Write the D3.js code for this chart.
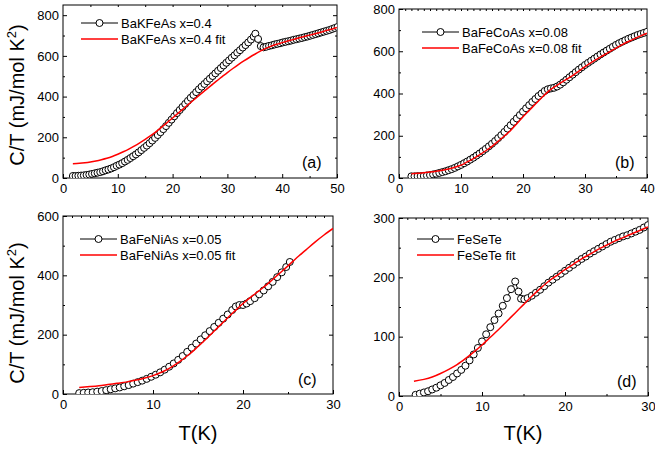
<!DOCTYPE html>
<html>
<head>
<meta charset="utf-8">
<script src="https://cdnjs.cloudflare.com/ajax/libs/d3/7.8.5/d3.min.js"></script>
<style>
body { margin: 0; background: #fff; }
svg text { font-family: "Liberation Sans", Arial, sans-serif; fill: #000; }
</style>
</head>
<body>
<div class="container"></div>
<script>
// (a) BaKFeAs x=0.4
const aT = [1.8,2.3,2.8,3.3,3.8,4.3,4.8,5.3,5.8,6.3,6.8,7.3,7.8,8.3,8.8,9.3,9.8,10.3,10.8,11.3,11.8,12.3,12.8,13.3,13.8,14.3,14.8,15.3,15.8,16.3,16.8,17.3,17.8,18.3,18.8,19.3,19.8,20.3,20.8,21.3,21.8,22.3,22.8,23.3,23.8,24.3,24.8,25.3,25.8,26.3,26.8,27.3,27.8,28.3,28.8,29.3,29.8,30.3,30.8,31.3,31.8,32.3,32.8,33.3,33.8,34.3,34.8,35.1,35.6,36.1,36.6,37.1,37.6,38.1,38.6,39.1,39.6,40.1,40.6,41.1,41.6,42.1,42.6,43.1,43.6,44.1,44.6,45.1,45.6,46.1,46.6,47.1,47.6,48.1,48.6,49.1,49.6,50.1];
const aC = [10,10,11,12,13,15,17,20,23,26,29,33,38,42,47,53,60,66,73,81,89,98,107,116,126,137,148,159,171,184,197,211,225,240,255,271,287,303,319,334,349,364,379,394,408,422,436,449,462,475,488,501,514,527,540,553,566,578,591,603,616,628,641,653,666,680,695,709,683,648,642,645,649,652,656,659,662,666,669,672,675,679,682,685,688,692,695,699,703,707,711,715,719,723,727,732,737,742];
const aFitT = [1.8,3,4,5,6,7,8,9,10,11,12,13,14,15,16,17,18,19,20,21,22,23,24,25,26,27,28,29,30,31,32,33,34,35,36,37,38,39,40,41,42,43,44,45,46,47,48,49,50];
const aFitC = [70,72,75,79,84,90,97,106,117,129,142,157,173,190,208,228,250,272,295,318,341,364,387,410,432,454,476,497,518,538,557,575,592,608,623,637,648,657,665,673,680,688,695,702,709,716,724,731,740];

// (b) BaFeCoAs x=0.08
const bT = [2,2.5,3,3.5,4,4.5,5,5.5,6,6.5,7,7.5,8,8.5,9,9.5,10,10.5,11,11.5,12,12.5,13,13.5,14,14.5,15,15.5,16,16.5,17,17.5,18,18.5,19,19.5,20,20.5,21,21.5,22,22.5,23,23.5,24,24.5,25,25.5,26,26.5,27,27.5,28,28.5,29,29.5,30,30.5,31,31.5,32,32.5,33,33.5,34,34.5,35,35.5,36,36.5,37,37.5,38,38.5,39,39.5,40];
const bC = [8,8,9,9,10,12,14,17,20,24,28,32,37,42,48,55,62,70,78,87,96,106,116,127,138,150,162,175,189,203,218,234,250,266,282,298,314,330,345,360,374,388,400,412,420,424,427,433,442,453,465,477,489,501,513,524,535,545,555,565,575,585,594,603,612,621,630,638,645,652,659,665,671,677,682,687,692];
const bFitT = [2,3,4,5,6,7,8,9,10,11,12,13,14,15,16,17,18,19,20,21,22,23,24,25,26,27,28,29,30,31,32,33,34,35,36,37,38,39,40];
const bFitC = [20,22,25,28,32,37,43,51,61,76,92,110,129,150,174,199,225,257,290,320,350,380,408,430,449,467,485,506,527,546,564,581,598,615,631,646,660,673,685];

// (c) BaFeNiAs x=0.05
const cT = [1.8,2.3,2.8,3.3,3.8,4.3,4.8,5.3,5.8,6.3,6.8,7.3,7.8,8.3,8.8,9.3,9.8,10.3,10.8,11.3,11.8,12.3,12.8,13.3,13.8,14.3,14.8,15.3,15.8,16.3,16.8,17.3,17.8,18.3,18.8,19.2,19.6,20,20.4,20.8,21.3,21.8,22.3,22.8,23.3,23.8,24.3,24.8,25.2];
const cC = [3,4,5,6,8,10,13,16,19,22,26,30,35,40,45,51,58,65,73,82,92,103,115,128,142,156,170,184,198,212,226,240,254,268,283,295,300,300,305,313,323,336,349,363,378,394,410,428,445];
const cFitT = [1.8,3,4,5,6,7,8,9,10,11,12,13,14,15,16,17,18,19,20,21,22,23,24,25,26,27,28,29,30];
const cFitC = [22,25,28,32,36,40,46,53,62,74,90,110,133,160,188,218,248,277,305,330,353,378,405,432,460,486,512,536,558];

// (d) FeSeTe
const dT = [2,2.5,3,3.5,4,4.5,5,5.5,6,6.5,7,7.5,8,8.5,9,9.5,10,10.5,11,11.5,12,12.5,13,13.5,14,14.4,14.7,15.1,15.5,16,16.5,17,17.5,18,18.5,19,19.5,20,20.5,21,21.5,22,22.5,23,23.5,24,24.5,25,25.5,26,26.5,27,27.5,28,28.5,29,29.5,30];
const dC = [2,4,6,8,11,14,18,22,27,32,38,44,51,60,70,81,92,104,116,128,139,152,165,180,193,176,164,163,165,169,174,179,185,191,196,201,206,211,216,221,226,231,235,240,244,248,252,256,260,263,266,269,271,274,277,280,284,288];
const dFitT = [1.8,3,4,5,6,7,8,9,10,11,12,13,14,15,16,17,18,19,20,21,22,23,24,25,26,27,28,29,30];
const dFitC = [25,28,32,38,45,53,63,74,86,99,112,126,140,154,168,181,193,203,213,222,231,239,247,254,261,267,273,279,285];

const names = ['BaKFeAs x=0.4', 'BaFeCoAs x=0.08', 'BaFeNiAs x=0.05', 'FeSeTe'];
const tags = ['(a)', '(b)', '(c)', '(d)'];

const panels = [
    { T: aT, C: aC, fT: aFitT, fC: aFitC, xMax: 50, yMax: 850, yMaj: 200, yMin: 100, topStep: 5,
      left: 63, right: 337, top: 5, bottom: 178, legX: 81, legY: 23, tagX: 302, tagY: 168 },
    { T: bT, C: bC, fT: bFitT, fC: bFitC, xMax: 40, yMax: 800, yMaj: 200, yMin: 100, topStep: 1,
      left: 399, right: 647, top: 9, bottom: 178, legX: 422, legY: 32, tagX: 615, tagY: 168 },
    { T: cT, C: cC, fT: cFitT, fC: cFitC, xMax: 30, yMax: 600, yMaj: 200, yMin: 100, topStep: 1,
      left: 63, right: 333, top: 216, bottom: 394, legX: 80, legY: 239, tagX: 298, tagY: 385 },
    { T: dT, C: dC, fT: dFitT, fC: dFitC, xMax: 30, yMax: 300, yMaj: 100, yMin: 50, topStep: 1,
      left: 399, right: 648, top: 218, bottom: 396, legX: 417, legY: 239, tagX: 617, tagY: 387 }
];

const svg = d3.select('.container')
    .append('svg')
    .attr('width', 655)
    .attr('height', 451);

function styleAxis(g) {
    g.select('.domain').remove();
    g.selectAll('line').attr('stroke', '#000');
    g.selectAll('text').attr('font-size', 13).attr('font-family', '"Liberation Sans", Arial, sans-serif');
    g.attr('font-family', null).attr('font-size', null);
}

panels.forEach((p, i) => {
    const x = d3.scaleLinear().domain([0, p.xMax]).range([p.left, p.right]);
    const y = d3.scaleLinear().domain([0, p.yMax]).range([p.bottom, p.top]);
    const G = svg.append('g');

    G.append('clipPath').attr('id', 'clip' + i)
        .append('rect')
        .attr('x', p.left).attr('y', p.top)
        .attr('width', p.right - p.left).attr('height', p.bottom - p.top);

    const xMaj = d3.range(0, p.xMax + 0.1, 10);
    const xMin = d3.range(5, p.xMax, 10);
    const yMaj = d3.range(0, p.yMax + 0.1, p.yMaj);
    const yMin = d3.range(p.yMin, p.yMax, p.yMaj);

    // bottom & left, labelled
    G.append('g').attr('transform', `translate(0,${p.bottom})`)
        .call(d3.axisBottom(x).tickValues(xMaj).tickSize(-4).tickSizeOuter(0).tickPadding(6).tickFormat(d3.format('d')))
        .call(styleAxis);
    G.append('g').attr('transform', `translate(0,${p.bottom})`)
        .call(d3.axisBottom(x).tickValues(xMin).tickSize(-2).tickFormat(''))
        .call(styleAxis);
    G.append('g').attr('transform', `translate(${p.left},0)`)
        .call(d3.axisLeft(y).tickValues(yMaj).tickSize(-4).tickSizeOuter(0).tickPadding(4).tickFormat(d3.format('d')))
        .call(styleAxis);
    G.append('g').attr('transform', `translate(${p.left},0)`)
        .call(d3.axisLeft(y).tickValues(yMin).tickSize(-2).tickFormat(''))
        .call(styleAxis);

    // top & right, ticks only
    G.append('g').attr('transform', `translate(0,${p.top})`)
        .call(d3.axisTop(x).tickValues(d3.range(p.topStep, p.xMax, p.topStep)).tickSize(-2).tickFormat(''))
        .call(styleAxis);
    G.append('g').attr('transform', `translate(${p.right},0)`)
        .call(d3.axisRight(y).tickValues(yMaj.filter(v => v > 0 && v < p.yMax)).tickSize(-4).tickFormat(''))
        .call(styleAxis);
    G.append('g').attr('transform', `translate(${p.right},0)`)
        .call(d3.axisRight(y).tickValues(yMin).tickSize(-2).tickFormat(''))
        .call(styleAxis);

    G.append('rect')
        .attr('x', p.left).attr('y', p.top)
        .attr('width', p.right - p.left).attr('height', p.bottom - p.top)
        .attr('fill', 'none').attr('stroke', '#000').attr('stroke-width', 1);

    const pts = p.T.map((t, k) => [t, p.C[k]]);
    const fit = p.fT.map((t, k) => [t, p.fC[k]]);
    const line = d3.line().x(d => x(d[0])).y(d => y(d[1]));
    const plot = G.append('g').attr('clip-path', `url(#clip${i})`);

    plot.append('path')
        .attr('d', line(pts))
        .attr('fill', 'none').attr('stroke', '#000').attr('stroke-width', 1);
    plot.selectAll('circle')
        .data(pts)
        .join('circle')
        .attr('cx', d => x(d[0]))
        .attr('cy', d => y(d[1]))
        .attr('r', 3.5)
        .style('fill', '#fff')
        .style('stroke', '#000')
        .style('stroke-width', 1);
    plot.append('path')
        .attr('d', line.curve(d3.curveMonotoneX)(fit))
        .attr('fill', 'none').attr('stroke', '#ff0000').attr('stroke-width', 1.5);

    // legend
    G.append('line')
        .attr('x1', p.legX).attr('x2', p.legX + 37)
        .attr('y1', p.legY).attr('y2', p.legY)
        .attr('stroke', '#000');
    G.append('circle')
        .attr('cx', p.legX + 18.5).attr('cy', p.legY).attr('r', 3.5)
        .style('fill', '#fff').style('stroke', '#000');
    G.append('text')
        .attr('x', p.legX + 40).attr('y', p.legY + 5)
        .attr('font-size', 13)
        .text(names[i]);
    G.append('line')
        .attr('x1', p.legX).attr('x2', p.legX + 37)
        .attr('y1', p.legY + 16).attr('y2', p.legY + 16)
        .attr('stroke', '#ff0000').attr('stroke-width', 1.5);
    G.append('text')
        .attr('x', p.legX + 40).attr('y', p.legY + 21)
        .attr('font-size', 13)
        .text(names[i] + ' fit');

    G.append('text')
        .attr('x', p.tagX).attr('y', p.tagY)
        .attr('font-size', 16)
        .text(tags[i]);
});

// axis titles
[95, 313].forEach(cy => {
    const t = svg.append('text')
        .attr('transform', `translate(24,${cy}) rotate(-90)`)
        .attr('text-anchor', 'middle')
        .attr('font-size', 20);
    t.append('tspan').text('C/T (mJ/mol K');
    t.append('tspan').attr('font-size', 13).attr('dy', -8).text('2');
    t.append('tspan').attr('dy', 8).text(')');
});

[198, 523].forEach(cx => {
    svg.append('text')
        .attr('x', cx).attr('y', 440)
        .attr('text-anchor', 'middle')
        .attr('font-size', 20)
        .text('T(K)');
});
</script>
</body>
</html>
